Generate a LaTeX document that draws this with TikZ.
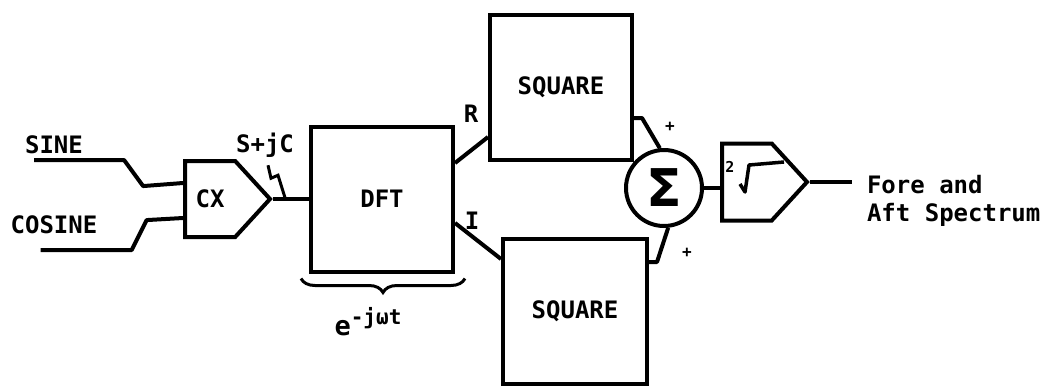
\documentclass[tikz,border=0pt]{standalone}
\usepackage{fontspec}
\setmainfont{DejaVu Sans Mono}
\newfontfamily\sigmafont{DejaVu Sans}
\usetikzlibrary{shapes.symbols, positioning, calc, decorations.pathreplacing}

\begin{document}
\begin{tikzpicture}[x=1pt, y=-1pt, line width=4pt,
    font=\fontsize{24}{28}\selectfont\bfseries,
    block/.style={draw, minimum width=142pt, minimum height=145pt, inner sep=0pt},
    gate/.style={draw, shape=signal, signal to=east, signal pointer angle=95,
                 minimum width=85pt, minimum height=76pt, inner sep=0pt},
    wire/.style={line join=round},
    lab/.style={inner sep=0pt},
    sign/.style={inner sep=0pt, font=\fontsize{16}{16}\selectfont\bfseries}
  ]
    \useasboundingbox (0,0) rectangle (1059,386);

    % blocks
    \node[gate, anchor=west] (cx) at (183,199) {CX};
    \node[block] (dft) at (382,199) {DFT};
    \node[block] (sqa) at (561,87) {SQUARE};
    \node[block, minimum width=144pt] (sqb) at (575,311) {SQUARE};
    \node[draw, circle, minimum size=76pt, inner sep=0pt] (sum) at (664,188)
      {\sigmafont\fontsize{52}{52}\selectfont Σ};
    \node[gate, anchor=west, minimum height=77pt] (root) at (720,182) {};

    % labels
    \node[lab] (sine) at (54,145) {SINE};
    \node[lab] (cosine) at (54,225) {COSINE};
    \node[lab] (sjc) at (265,145) {S+jC};
    \node[lab] (rlab) at (471,114) {R};
    \node[lab] (ilab) at (472,221) {I};
    \node[sign] (pa) at (670,127) {+};
    \node[sign] (pb) at (687,253) {+};
    \node[lab, font=\fontsize{15}{15}\selectfont\bfseries] (idx) at (730,167) {2};
    \node[lab, anchor=west, align=left] (out) at (865,201) {Fore and\\Aft Spectrum};
    \node[lab, below=32pt of dft.south, xshift=-14pt] (ejwt)
      {\fontsize{27}{27}\selectfont e\raisebox{11pt}{\fontsize{21}{21}\selectfont -jωt}};

    % root sign
    \draw[line width=3.5pt, line join=round]
      ($(root.west)+(20,2)$) -- ($(root.west)+(25,10)$) -- ($(root.west)+(29,-17)$)
      -- ($(root.west)+(64,-20)$);

    % inputs
    \draw[wire] ($(sine.south west)+(11,4)$) -- ++(90,0) -- ++(19,26) -- ($(cx.west)+(0,-16)$);
    \draw[wire] ($(cosine.south west)+(32,14)$) -- ++(91,0) -- ++(15,-30) -- ($(cx.west)+(0,19)$);
    \draw[wire] (cx.east) -- (dft.west);
    \coordinate (tap) at ($(cx.east)!0.35!(dft.west)$);
    \draw[line width=3pt] ($(sjc.south)+(3,6)$) -- ++(3,13) -- ++(7,-3) -- (tap);

    % real and imaginary parts
    \draw[wire] ($(dft.east)+(0,-36)$) -- ($(sqa.west)+(0,50)$);
    \draw[wire] ($(dft.east)+(0,24)$) -- ($(sqb.west)+(0,-52)$);
    \draw[wire] ($(sqa.east)+(0,31)$) -- ++(8,0) -- (sum.96);
    \draw[wire] ($(sqb.east)+(0,-49)$) -- ++(8,0) -- (sum.-84);

    % output
    \draw[wire] (sum.east) -- (sum.east -| root.west);
    \coordinate (outend) at ($(root.east)+(42,0)$);
    \draw[wire] (root.east) -- (outend);

    \draw[line width=3pt, decorate, decoration={brace, mirror, amplitude=14pt}]
      ($(dft.south west)+(-8,5)$) -- ($(dft.south east)+(10,5)$);
\end{tikzpicture}
\end{document}
